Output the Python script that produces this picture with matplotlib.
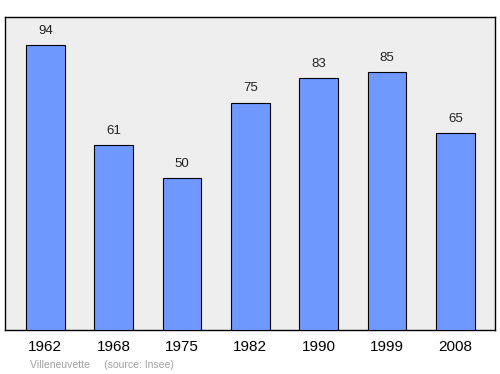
import matplotlib
matplotlib.use('Agg')
import matplotlib.pyplot as plt

plt.rcParams['font.family'] = ['Liberation Sans', 'DejaVu Sans']

years = ['1962', '1968', '1975', '1982', '1990', '1999', '2008']
population = [94, 61, 50, 75, 83, 85, 65]

fig = plt.figure(figsize=(5, 3.74), dpi=100)
ax = fig.add_axes([0.01, 0.1176, 0.98, 0.837])
ax.set_facecolor('#eeeeee')

x = range(len(years))
ax.bar(x, population, width=0.57, color='#7099ff', edgecolor='black', linewidth=0.8, zorder=3)
for i, v in enumerate(population):
    ax.annotate(str(v), (i, v), xytext=(0, 6), textcoords='offset points',
                ha='center', va='bottom', fontsize=9.5, color='#222222')

ax.set_xlim(-0.59, 6.58)
ax.set_ylim(0, 103.3)
ax.set_xticks(list(x))
ax.set_xticklabels(years, fontsize=11)
ax.tick_params(axis='x', length=0, pad=7)
ax.set_yticks([])
for s in ax.spines.values():
    s.set_linewidth(1)

fig.text(0.06, 0.017, 'Villeneuvette     (source: Insee)', fontsize=7.5, color='#a0a0a0')

fig.savefig('out.png', dpi=100)
